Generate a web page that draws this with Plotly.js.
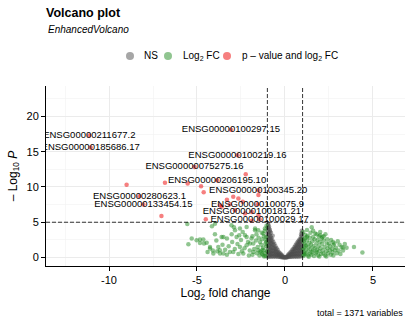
<!DOCTYPE html>
<html>
<head>
<meta charset="utf-8">
<script src="https://cdn.plot.ly/plotly-3.0.1.min.js"></script>
<style>html,body{margin:0;padding:0;background:#fff;}#chart{width:414px;height:326px;}</style>
</head>
<body>
<div id="chart"></div>
<script>
// ---- Data ----
// Labelled significant genes (p-value and log2 FC)
var labGenes = ["ENSG00000211677.2","ENSG00000185686.17","ENSG00000100297.15","ENSG00000100219.16",
  "ENSG00000075275.16","ENSG00000206195.10","ENSG00000280623.1","ENSG00000133454.15",
  "ENSG00000100345.20","ENSG00000100075.9","ENSG00000100181.21","ENSG00000100029.17"];
var labX = [-11.12,-11.04,-3.07,-2.70,-5.14,-3.86,-8.27,-8.05,-1.52,-1.56,-1.88,-1.44];
var labY = [17.3,15.6,18.1,14.5,12.83,10.95,8.68,7.5,9.53,7.55,6.46,5.42];

// Other "p-value and log2 FC" points (unlabelled)
var sigX = [-9.0,-6.82,-5.53,-4.77,-4.62,-7.02,-4.5,-3.69,-3.13,-2.65,-2.94,-1.51,-1.51,-2.27,-2.23,-2.84,-3.6,-1.9,-3.3,-2.4];
var sigY = [10.3,10.6,10.5,10.1,9.25,5.88,5.42,7.4,7.55,8.35,8.6,8.85,6.0,6.23,11.8,6.7,7.2,5.2,8.2,7.9];

// "Log2 FC" points (|log2FC| > 1, not significant p)
var fcX = [-5.55,-5.49,-5.3,-5.02,-4.83,-4.64,-4.6,-4.83,-4.26,-4.26,-4.15,-3.98,-3.98,-3.6,-3.5,-3.79,-3.7,-3.69,-4.07,-3.5,
  -3.13,-2.94,-3.04,-3.03,-2.84,-2.75,-2.6,-2.56,-2.56,-2.37,-2.27,-2.18,-2.18,-2.18,-1.99,-1.8,-1.8,-1.7,-1.7,-1.52,
  -1.52,-1.42,-1.32,-1.23,-1.23,-1.14,-1.1,-1.15,-1.2,-1.25,-1.3,-1.35,-1.4,-1.45,-1.55,-1.6,-1.65,-1.75,-1.85,-1.9,
  -2.0,-2.05,-2.1,-2.3,-2.45,-2.5,-2.65,-2.7,-2.85,-3.0,-3.2,-3.3,-3.4,-3.55,-3.85,-3.9,-4.1,-4.4,-4.45,-1.05,
  -1.1,-1.2,-1.08,-1.3,-1.5,-1.62,-1.85,-2.4,-2.9,-3.3,-1.05,-1.15,-1.02,-1.12,-1.18,-1.06,-1.28,-1.38,
  1.04,1.14,1.6,2.0,2.08,2.37,2.75,3.22,3.5,3.92,4.4,1.42,1.8,2.18,2.56,2.84,1.52,2.73,3.3,
  1.05,1.08,1.1,1.12,1.18,1.2,1.22,1.25,1.28,1.3,1.32,1.35,1.38,1.4,1.45,1.48,1.5,1.55,1.58,1.62,
  1.65,1.68,1.7,1.72,1.75,1.78,1.82,1.85,1.88,1.9,1.93,1.95,1.98,2.02,2.05,2.1,2.12,2.15,2.2,2.25,
  2.28,2.3,2.35,2.4,2.42,2.45,2.5,2.55,2.6,2.62,2.68,2.7,2.8,2.9,2.95,3.0,3.05,3.1,3.15,3.3,
  3.4,1.15,1.25,1.45,1.6,1.8,2.0,2.2,1.35,1.55,1.95,2.35,2.75,1.02,1.06,1.1,1.16,1.24,1.03,1.09];
var fcY = [4.75,1.88,2.7,2.45,2.55,2.55,1.98,2.07,1.5,1.27,4.43,3.3,4.8,2.9,2.9,1.5,1.03,0.57,0.57,0.57,
  0.8,0.8,4.57,3.3,3.87,2.92,3.15,4.1,1.5,0.57,3.15,2.9,1.74,4.33,1.98,1.98,0.8,3.87,4.1,3.87,
  1.03,2.2,3.5,3.4,0.33,4.1,0.2,0.6,1.0,1.4,0.5,1.8,0.9,0.3,1.5,0.6,2.4,1.2,0.4,2.7,
  1.0,0.3,2.2,1.3,0.9,2.5,0.5,1.9,1.2,2.2,1.6,0.4,1.1,1.8,0.9,2.4,1.0,0.8,2.1,1.6,
  2.5,3.0,2.9,2.6,2.8,3.3,3.0,3.6,4.3,2.7,4.5,3.8,0.9,1.9,0.15,2.2,1.1,0.7,
  3.6,2.7,2.9,3.15,2.7,1.98,1.74,1.5,1.4,1.5,0.7,0.57,0.8,0.57,1.03,1.03,4.3,2.2,1.42,
  0.2,0.8,1.4,2.0,0.5,1.1,1.7,2.4,3.1,0.3,0.9,1.5,2.1,2.8,1.2,1.8,0.4,2.3,1.0,1.6,
  0.2,2.6,1.3,3.4,0.6,2.0,1.1,2.5,0.3,1.6,3.0,0.9,2.2,1.3,0.5,1.9,2.9,1.0,2.4,1.5,
  0.3,3.3,0.9,2.6,1.3,0.6,2.0,1.6,0.4,2.5,1.2,0.7,2.0,1.4,0.6,2.3,1.0,1.8,0.5,1.0,
  1.9,3.2,3.9,3.5,3.8,3.3,3.6,3.0,0.1,0.8,0.15,0.15,0.3,1.2,2.3,0.6,1.7,2.9,2.6,0.4];

// "NS" points (|log2FC| < 1)
var nsX = [-0.98,-0.98,-0.98,-0.98,-0.98,-0.98,-0.98,-0.98,-0.98,-0.98,
  -0.93,-0.93,-0.93,-0.93,-0.93,-0.93,-0.93,-0.93,
  -0.88,-0.88,-0.88,-0.88,-0.88,-0.88,-0.88,-0.88,
  -0.83,-0.83,-0.83,-0.83,-0.83,-0.83,-0.83,
  -0.78,-0.78,-0.78,-0.78,-0.78,-0.78,-0.78,
  -0.72,-0.72,-0.72,-0.72,-0.72,-0.72,
  -0.66,-0.66,-0.66,-0.66,-0.66,-0.66,
  -0.6,-0.6,-0.6,-0.6,-0.6,
  -0.54,-0.54,-0.54,-0.54,-0.54,
  -0.48,-0.48,-0.48,-0.48,
  -0.42,-0.42,-0.42,-0.42,
  -0.36,-0.36,-0.36,
  -0.3,-0.3,-0.3,
  -0.24,-0.24,-0.24,
  -0.18,-0.18,-0.18,
  -0.12,-0.12,-0.06,-0.06,0.0,
  0.06,0.06,0.12,0.12,
  0.18,0.18,0.18,
  0.24,0.24,0.24,
  0.3,0.3,0.3,
  0.36,0.36,0.36,
  0.42,0.42,0.42,0.42,
  0.48,0.48,0.48,0.48,
  0.54,0.54,0.54,0.54,0.54,
  0.6,0.6,0.6,0.6,0.6,
  0.66,0.66,0.66,0.66,0.66,0.66,
  0.72,0.72,0.72,0.72,0.72,0.72,
  0.78,0.78,0.78,0.78,0.78,0.78,0.78,
  0.84,0.84,0.84,0.84,0.84,0.84,0.84,
  0.9,0.9,0.9,0.9,0.9,0.9,0.9,0.9,
  0.96,0.96,0.96,0.96,0.96,0.96,0.96,0.96,0.96,
  -0.95,-0.9,-0.85,-0.7,-0.8,0.95,0.92,-0.96,-0.91,-0.86];
var nsY = [0.1,0.5,0.9,1.4,1.9,2.4,2.9,3.4,3.9,4.3,
  0.2,0.7,1.2,1.7,2.2,2.7,3.2,3.6,
  0.1,0.4,0.8,1.3,1.8,2.3,2.8,3.3,
  0.3,0.7,1.1,1.6,2.1,2.6,3.0,
  0.1,0.5,0.9,1.4,1.9,2.4,2.8,
  0.2,0.6,1.0,1.5,2.0,2.5,
  0.1,0.5,0.9,1.3,1.8,2.2,
  0.2,0.6,1.0,1.4,1.9,
  0.1,0.4,0.8,1.2,1.6,
  0.2,0.5,0.9,1.3,
  0.1,0.4,0.7,1.1,
  0.15,0.45,0.8,
  0.1,0.35,0.65,
  0.08,0.3,0.5,
  0.05,0.2,0.35,
  0.04,0.15,0.02,0.07,0.01,
  0.02,0.08,0.04,0.16,
  0.06,0.22,0.4,
  0.1,0.3,0.55,
  0.12,0.4,0.7,
  0.15,0.5,0.85,
  0.1,0.45,0.8,1.1,
  0.2,0.55,0.9,1.25,
  0.1,0.45,0.8,1.2,1.5,
  0.2,0.6,1.0,1.4,1.75,
  0.1,0.5,0.9,1.3,1.65,2.0,
  0.25,0.65,1.05,1.45,1.85,2.2,
  0.1,0.5,0.9,1.3,1.7,2.1,2.4,
  0.3,0.7,1.1,1.5,1.9,2.3,2.6,
  0.15,0.55,0.95,1.35,1.75,2.15,2.55,2.9,
  0.3,0.7,1.1,1.5,1.9,2.3,2.7,3.1,3.5,
  4.6,4.1,3.7,3.1,3.5,3.8,3.3,4.8,4.4,3.9];

var legendNames = ["NS","Log<sub>2</sub> FC","p \u2013 value and log<sub>2</sub> FC"];
var legendColors = ["#4d4d4d","#228b22","#ee0000"];
var colNS = legendColors[0], colFC = legendColors[1], colSig = legendColors[2];
var FONT = "Liberation Sans, Arial, sans-serif";
var xTickVals = [-10,-5,0,5];
var yTickVals = [0,5,10,15,20];
var fcCut = 1, pCut = 5;

var ms = 4.5, op = 0.5;
var traces = [
  {type:"scatter", mode:"markers", x:nsX, y:nsY, showlegend:false, hoverinfo:"skip",
   marker:{color:colNS, size:ms, opacity:op, line:{width:0}}},
  {type:"scatter", mode:"markers", x:fcX, y:fcY, showlegend:false, hoverinfo:"skip",
   marker:{color:colFC, size:ms, opacity:op, line:{width:0}}},
  {type:"scatter", mode:"markers", x:sigX.concat(labX), y:sigY.concat(labY), showlegend:false, hoverinfo:"skip",
   marker:{color:colSig, size:ms, opacity:op, line:{width:0}}},
  {type:"scatter", mode:"text", x:labX, y:labY, text:labGenes, textposition:"middle center",
   showlegend:false, hoverinfo:"skip", textfont:{family:FONT, size:9.5, color:"#000"}}
];

// Plot area in pixels: left 46, width 359, top 86, height 179.7
function px2paperX(p){ return (p-46)/359; }
function px2paperY(p){ return (265.7-p)/179.7; }
var legY = px2paperY(56);
var legDotPx = [130,168,227];
var legTextPx = [142,181,240];

var dashLine = {color:"#000", width:0.8, dash:"4px,2px"};
var shapes = [
  {type:"line", xref:"x", yref:"paper", x0:-fcCut, x1:-fcCut, y0:0, y1:1, line:dashLine},
  {type:"line", xref:"x", yref:"paper", x0:fcCut, x1:fcCut, y0:0, y1:1, line:dashLine},
  {type:"line", xref:"paper", yref:"y", x0:0, x1:1, y0:pCut, y1:pCut, line:dashLine}
];
var annotations = [
  {text:"<i>EnhancedVolcano</i>", xref:"paper", x:0, xanchor:"left", yref:"paper", y:px2paperY(30), yanchor:"middle",
   showarrow:false, font:{size:10, color:"#000"}},
  {text:"total = 1371 variables", xref:"paper", x:1, xanchor:"right", yref:"paper", y:px2paperY(313), yanchor:"middle",
   showarrow:false, font:{size:9, color:"#000"}}
];
for (var i=0;i<legendNames.length;i++){
  shapes.push({type:"circle", xref:"paper", yref:"paper", xsizemode:"pixel", ysizemode:"pixel",
    xanchor:px2paperX(legDotPx[i]), yanchor:legY, x0:-4, x1:4, y0:-4, y1:4,
    fillcolor:legendColors[i], opacity:op, line:{width:0}});
  annotations.push({text:legendNames[i], xref:"paper", x:px2paperX(legTextPx[i]), xanchor:"left",
    yref:"paper", y:legY, yanchor:"middle", showarrow:false, font:{size:10, color:"#000"}});
}

var layout = {
  width:414, height:326,
  margin:{l:46, r:9, t:86, b:60, pad:0},
  paper_bgcolor:"#fff", plot_bgcolor:"#fff",
  font:{family:FONT, color:"#000", size:10},
  showlegend:false,
  title:{text:"<b>Volcano plot</b>", xref:"container", x:46/414, xanchor:"left",
         yref:"container", y:1-12.5/326, yanchor:"middle", font:{size:12.5, family:FONT, color:"#000"}},
  xaxis:{range:[-13.58,6.82], tickvals:xTickVals, ticktext:xTickVals.map(String), showline:true, linecolor:"#000", linewidth:1,
         ticks:"outside", ticklen:4, tickwidth:1, tickcolor:"#000", tickfont:{size:11, color:"#000"},
         showgrid:true, gridcolor:"#ebebeb", gridwidth:1, zeroline:false, mirror:false,
         minor:{dtick:2.5, tick0:0, showgrid:true, gridcolor:"#f2f2f2", gridwidth:0.6, ticks:""},
         title:{text:"Log<sub>2</sub> fold change", font:{size:12, color:"#000"}, standoff:3}},
  yaxis:{range:[-1.2,24.3], tickvals:yTickVals, ticktext:yTickVals.map(String), showline:true, linecolor:"#000", linewidth:1,
         ticks:"outside", ticklen:4, tickwidth:1, tickcolor:"#000", tickfont:{size:11, color:"#000"},
         showgrid:true, gridcolor:"#ebebeb", gridwidth:1, zeroline:false,
         minor:{dtick:2.5, tick0:0, showgrid:true, gridcolor:"#f2f2f2", gridwidth:0.6, ticks:""},
         title:{text:"\u2013 Log<sub>10</sub> <i>P</i>", font:{size:12, color:"#000"}, standoff:6}},
  shapes:shapes,
  annotations:annotations
};
Plotly.newPlot("chart", traces, layout, {displayModeBar:false, staticPlot:true});
</script>
</body>
</html>
